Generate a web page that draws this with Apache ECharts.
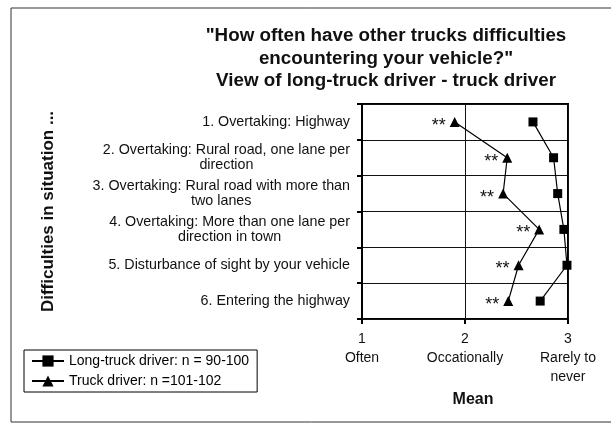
<!DOCTYPE html>
<html>
<head>
<meta charset="utf-8">
<script src="https://cdn.jsdelivr.net/npm/echarts@6/dist/echarts.min.js"></script>
<style>
  html, body { margin: 0; padding: 0; background: #fff; }
  #truckChart { width: 611px; height: 423px; }
</style>
</head>
<body>
<div id="truckChart"></div>
<script>
// situations (y axis, top to bottom)
const situations = [
  '1. Overtaking: Highway',
  '2. Overtaking: Rural road, one lane per\ndirection',
  '3. Overtaking: Rural road with more than\ntwo lanes',
  '4. Overtaking: More than one lane per\ndirection in town',
  '5. Disturbance of sight by your vehicle',
  '6. Entering the highway'
];
// mean answers
const longTruckMean = [2.66, 2.86, 2.90, 2.96, 2.99, 2.73];
const truckMean = [1.90, 2.41, 2.37, 2.72, 2.52, 2.42];
// significance marks next to truck driver points
const sigMarks = ['**', '**', '**', '**', '**', '**'];
// x axis tick texts
const scaleTicks = { 1: '1\nOften', 2: '2\nOccationally', 3: '3\nRarely to\nnever' };
const seriesNames = ['Long-truck driver: n = 90-100', 'Truck driver: n =101-102'];

const font = 'Arial, "Liberation Sans", sans-serif';

let truckEcharts = echarts.init(document.getElementById('truckChart'));
let option = {
  backgroundColor: '#fff',
  textStyle: { fontFamily: font, color: '#000' },
  animation: false,
  title: {
    text: '"How often have other trucks difficulties\nencountering your vehicle?"\nView of long-truck driver - truck driver',
    left: 386,
    top: 25,
    padding: 0,
    textAlign: 'center',
    textStyle: {
      fontFamily: font,
      fontSize: 18.8,
      fontWeight: 'bold',
      lineHeight: 22.5,
      color: '#111'
    }
  },
  legend: {
    orient: 'vertical',
    left: 24,
    top: 350,
    padding: [4, 8, 4, 7],
    itemGap: 6,
    itemWidth: 32,
    itemHeight: 14,
    borderColor: '#000',
    borderWidth: 1,
    textStyle: { fontFamily: font, fontSize: 14, color: '#000' },
    data: seriesNames
  },
  grid: {
    left: 362,
    right: 43,
    top: 104,
    bottom: 104,
    show: true,
    borderColor: '#000',
    borderWidth: 2
  },
  xAxis: {
    type: 'value',
    min: 1,
    max: 3,
    interval: 1,
    name: 'Mean',
    nameLocation: 'middle',
    nameGap: 58,
    nameTextStyle: {
      fontFamily: font,
      fontSize: 16,
      fontWeight: 'bold',
      color: '#111',
      padding: [0, 0, 0, 16]
    },
    axisLine: { lineStyle: { color: '#000', width: 2 } },
    axisTick: { show: true, length: 5, lineStyle: { color: '#000', width: 2 } },
    axisLabel: {
      margin: 11,
      fontFamily: font,
      fontSize: 14,
      lineHeight: 19,
      color: '#111',
      formatter: v => scaleTicks[v] || ''
    },
    splitLine: { show: true, lineStyle: { color: '#111', width: 1 } }
  },
  yAxis: {
    type: 'category',
    inverse: true,
    data: situations,
    name: 'Difficulties in situation ...',
    nameLocation: 'middle',
    nameRotate: 90,
    nameGap: 305,
    nameTextStyle: {
      fontFamily: font,
      fontSize: 17,
      fontWeight: 'bold',
      color: '#111'
    },
    axisLine: { lineStyle: { color: '#000', width: 2 } },
    axisTick: { show: true, length: 5, lineStyle: { color: '#000', width: 2 } },
    axisLabel: {
      margin: 12,
      // center the wrapped lines under each other, block stays right aligned
      formatter: v => v.split('\n').map(s => '{c|' + s + '}').join('\n'),
      rich: {
        c: { align: 'center', fontFamily: font, fontSize: 14.3, lineHeight: 15, color: '#111' }
      }
    },
    splitLine: { show: true, lineStyle: { color: '#111', width: 1 } }
  },
  series: [
    {
      name: seriesNames[0],
      type: 'line',
      data: longTruckMean,
      symbol: 'rect',
      symbolSize: 9,
      itemStyle: { color: '#000' },
      lineStyle: { color: '#000', width: 1.2 }
    },
    {
      name: seriesNames[1],
      type: 'line',
      data: truckMean,
      symbol: 'triangle',
      symbolSize: 10,
      itemStyle: { color: '#000' },
      lineStyle: { color: '#000', width: 1.2 },
      label: {
        show: true,
        position: 'left',
        distance: 4,
        offset: [0, 4],
        fontFamily: font,
        fontSize: 18,
        color: '#111',
        formatter: p => sigMarks[p.dataIndex]
      }
    }
  ],
  graphic: [
    {
      type: 'rect',
      shape: { x: 11, y: 8, width: 640, height: 414 },
      style: { fill: 'none', stroke: '#333', lineWidth: 1 },
      silent: true
    }
  ]
};
truckEcharts.setOption(option);
</script>
</body>
</html>
